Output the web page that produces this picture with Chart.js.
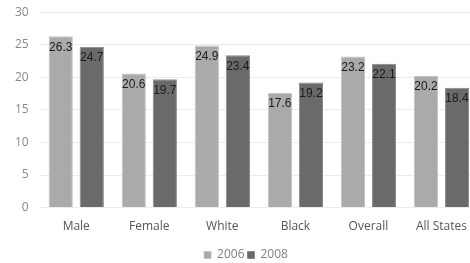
<!DOCTYPE html>
<html><head><meta charset="utf-8">
<script src="https://cdn.jsdelivr.net/npm/chart.js@4/dist/chart.umd.min.js"></script>
<style>html,body{margin:0;padding:0;background:#fff;overflow:hidden;width:470px;height:263px;}#wrap{position:relative;top:-6px;width:482px;height:269px;}</style>
</head><body><div id="wrap"><canvas id="c"></canvas></div>
<script>
const categories = ["Male","Female","White","Black","Overall","All States"];
const series2006 = [26.3,20.6,24.9,17.6,23.2,20.2];
const series2008 = [24.7,19.7,23.4,19.2,22.1,18.4];
const yTicks = [0,5,10,15,20,25,30];

const labelPlugin = {
  id:'valLabels',
  beforeDraw(chart){
    const lg = chart.legend;
    if (lg && !lg._shifted) { lg.left += 3; lg.right += 3; lg._shifted = true; }
  },
  afterDatasetsDraw(chart){
    const ctx = chart.ctx;
    ctx.save();
    ctx.font = '12px "Liberation Sans", Arial, sans-serif';
    ctx.fillStyle = '#1a1a1a';
    ctx.textAlign = 'center';
    ctx.textBaseline = 'middle';
    chart.data.datasets.forEach((ds,i)=>{
      chart.getDatasetMeta(i).data.forEach((el,j)=>{
        ctx.fillText(ds.data[j].toFixed(1), el.x, el.y + 11);
      });
    });
    ctx.restore();
  }
};

new Chart(document.getElementById('c'),{
  type:'bar',
  data:{labels:categories,datasets:[
    {label:'2006',data:series2006,backgroundColor:'#aaaaaa',borderColor:'#c4c4c4',borderWidth:1,categoryPercentage:0.85,barPercentage:0.78},
    {label:'2008',data:series2008,backgroundColor:'#6a6a6a',borderColor:'#888888',borderWidth:1,categoryPercentage:0.85,barPercentage:0.78}
  ]},
  options:{
    responsive:true,maintainAspectRatio:false,animation:false,
    layout:{padding:{top:0,right:0,left:4,bottom:-8}},
    plugins:{
      legend:{position:'bottom',labels:{boxWidth:7,boxHeight:7,padding:3,color:'#808080',font:{family:'"Open Sans", sans-serif',size:12}}},
      tooltip:{enabled:false}
    },
    scales:{
      x:{grid:{display:false,drawTicks:false},border:{display:false},ticks:{color:'#555',padding:15,font:{family:'"Open Sans", sans-serif',size:12,lineHeight:0.7}}},
      y:{min:0,max:30,afterBuildTicks(ax){ax.ticks=yTicks.map(v=>({value:v}));},
         grid:{color:'#ececec',drawTicks:false},border:{display:false},
         ticks:{color:'#888',padding:11,font:{family:'"Open Sans", sans-serif',size:12}}}
    }
  },
  plugins:[labelPlugin]
});
</script></body></html>
